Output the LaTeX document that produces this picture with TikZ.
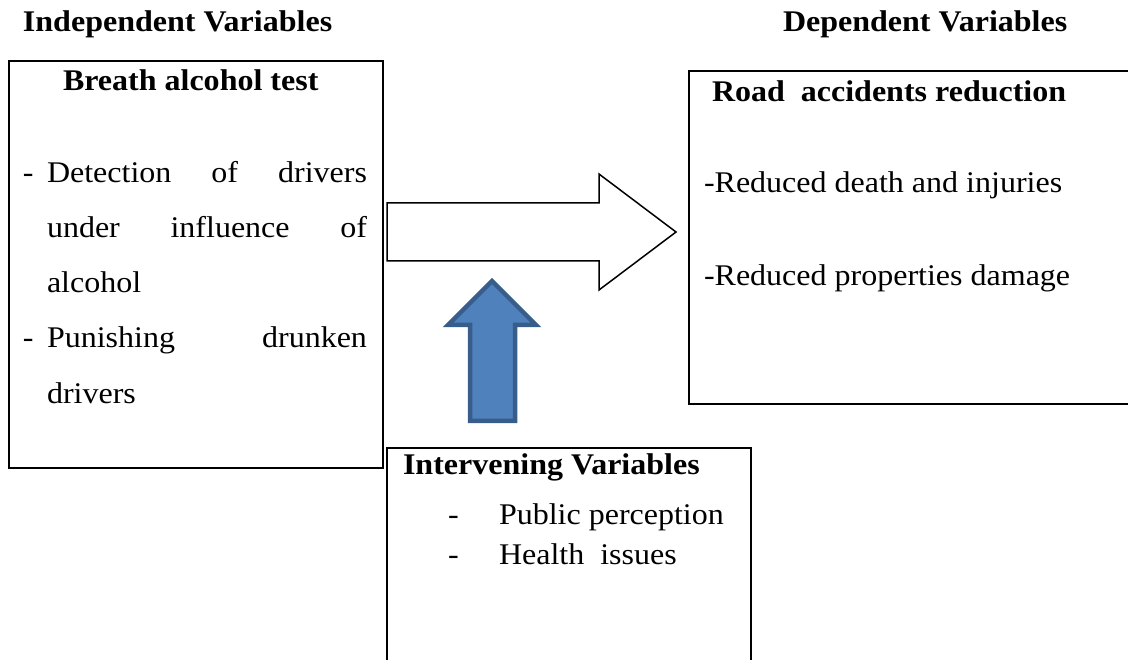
\documentclass[tikz,border=0pt]{standalone}
\usepackage{fontspec}
\setmainfont[FakeStretch=1.067]{Liberation Serif}
\definecolor{arrowfill}{HTML}{4F81BD}
\definecolor{arrowline}{HTML}{385D8A}
\begin{document}
\begin{tikzpicture}[x=1pt,y=-1pt,
  every node/.style={inner sep=0pt, outer sep=0pt, font=\fontsize{30}{36}\selectfont},
  box/.style={draw=black, line width=2pt, anchor=north west},
  txt/.style={anchor=base west},
  head/.style={anchor=base west, font=\fontsize{30}{36}\selectfont\bfseries},
  hollowarrow/.style={draw=black, line width=1.5pt, fill=white, line join=miter},
  bluearrow/.style={draw=arrowline, line width=4.5pt, fill=arrowfill, line join=miter}]
\clip (0,0) rectangle (1128,660);
\useasboundingbox (0,0) rectangle (1128,660);
% boxes
\node[box, minimum width=374pt, minimum height=406pt] (ind) at (8.5,61.5) {};
\node[box, minimum width=460pt, minimum height=333pt] (dep) at (688.5,71) {};
\node[box, minimum width=364pt, minimum height=240pt] (inter) at (387,448) {};
% headings
\node[head] (indtitle) at (23,32) {Independent Variables};
\node[head] (deptitle) at (783,32) {Dependent Variables};
% left box
\node[head] (bat) at (63,91) {Breath alcohol test};
\node[txt] (d1) at (23,183) {-};
\node[txt] (l1) at (47,183) {\makebox[320pt][s]{Detection of drivers}};
\node[txt] (l2) at (47,238) {\makebox[320pt][s]{under influence of}};
\node[txt] (l3) at (47,293) {alcohol};
\node[txt] (d2) at (23,348) {-};
\node[txt] (l4) at (47,348) {\makebox[320pt][s]{Punishing drunken}};
\node[txt] (l5) at (47,403) {drivers};
% right box
\node[head] (rar) at (712,102) {Road\ \ accidents reduction};
\node[txt] (r1) at (704,193) {-Reduced death and injuries};
\node[txt] (r2) at (704,286) {-Reduced properties damage};
% bottom box
\node[head] (iv) at (403,475) {Intervening Variables};
\node[txt] (b1d) at (448,524) {-};
\node[txt] (b1) at (499,524) {Public perception};
\node[txt] (b2d) at (448,564) {-};
\node[txt] (b2) at (499,564) {Health\ \ issues};
% arrows
\draw[hollowarrow] (387,203) -- (599,203) -- (599,174) -- (676,232) -- (599,290) -- (599,261) -- (387,261) -- cycle;
\draw[bluearrow] (492,281) -- (536,325) -- (515,325) -- (515,421) -- (470,421) -- (470,325) -- (448,325) -- cycle;
\end{tikzpicture}
\end{document}
